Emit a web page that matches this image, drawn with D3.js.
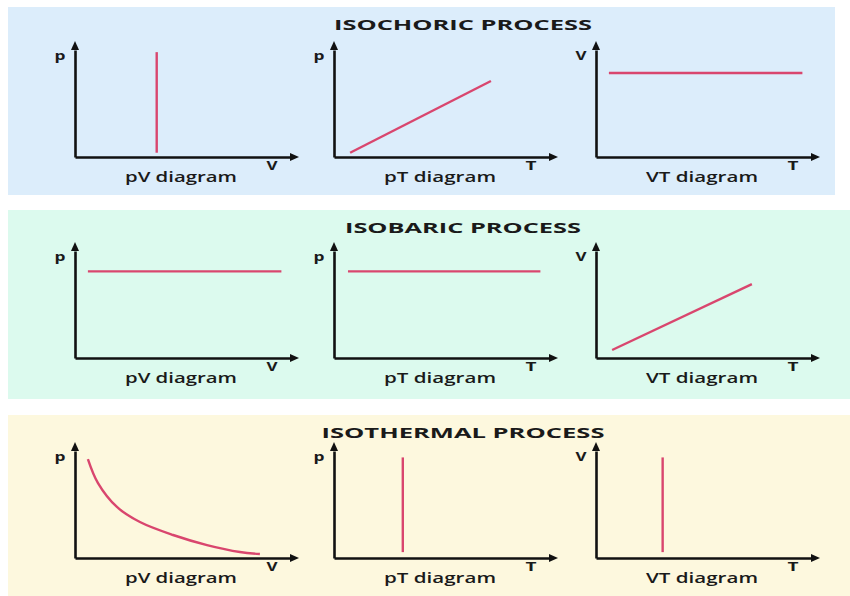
<!DOCTYPE html>
<html>
<head>
<meta charset="utf-8">
<script src="https://cdn.jsdelivr.net/npm/d3@7"></script>
<style>
  body { margin: 0; background: #fff; }
  svg { display: block; }
  text { font-family: "Open Sans", "DejaVu Sans", sans-serif; fill: #1a1a1a; }
</style>
</head>
<body>
<div id="chart"></div>
<script>
// processes (one row each)
const processes = ['ISOCHORIC PROCESS', 'ISOBARIC PROCESS', 'ISOTHERMAL PROCESS'];
const rowColors = ['#dcedfb', '#dcfaee', '#fdf8de'];
const diagramNames = ['pV diagram', 'pT diagram', 'VT diagram'];
const yLabels = ['p', 'p', 'V'];
const xLabels = ['V', 'T', 'T'];

// curve points per row, per diagram, in 0-10 units
const isochoric = [
  [[3.8, 0.4], [3.8, 9.8]],
  [[0.75, 0.4], [7.3, 7.1]],
  [[0.6, 7.85], [9.6, 7.85]]
];
const isobaric = [
  [[0.6, 8.1], [9.6, 8.1]],
  [[0.65, 8.1], [9.6, 8.1]],
  [[0.75, 0.75], [7.25, 6.9]]
];
const isothermal = [
  [[0.6, 9.25], [1.07, 7.0], [1.95, 4.77], [3.02, 3.36], [4.56, 2.15], [6.14, 1.21], [7.67, 0.56], [8.6, 0.37]],
  [[3.2, 9.4], [3.2, 0.55]],
  [[3.1, 9.4], [3.1, 0.55]]
];
const rows = [isochoric, isobaric, isothermal];
const titleWidths = [258, 236, 283];

const width = 850, height = 596;
const pink = '#d9466e';

const svg = d3.select('#chart')
  .append('svg')
  .attr('width', width)
  .attr('height', height);

const panelTops = [7, 210, 415];
const panelHeights = [188, 189, 181];
const colX = [75, 334, 596];
const axisBottoms = [157, 358, 558];
const plotW = 215, plotH = 107;

for (let r = 0; r < rows.length; r++) {
  svg.append('rect')
    .attr('x', 8)
    .attr('y', panelTops[r])
    .attr('width', r === 0 ? 827 : 842)
    .attr('height', panelHeights[r])
    .attr('fill', rowColors[r]);

  svg.append('text')
    .attr('x', 463)
    .attr('y', panelTops[r] + 23)
    .attr('text-anchor', 'middle')
    .attr('font-weight', 'bold')
    .attr('font-size', '14.5px')
    .attr('textLength', titleWidths[r])
    .attr('lengthAdjust', 'spacingAndGlyphs')
    .text(processes[r]);

  for (let c = 0; c < 3; c++) {
    const x0 = colX[c], yb = axisBottoms[r];
    const x = d3.scaleLinear().domain([0, 10]).range([x0, x0 + plotW]);
    const y = d3.scaleLinear().domain([0, 10]).range([yb, yb - plotH]);
    const g = svg.append('g');

    // axes without ticks
    g.append('g')
      .attr('transform', `translate(0,${yb})`)
      .call(d3.axisBottom(x).ticks(0).tickSizeOuter(0).tickSize(0).tickFormat(''))
      .call(a => a.select('.domain').attr('stroke', '#111').attr('stroke-width', 2.6));
    g.append('g')
      .attr('transform', `translate(${x0},0)`)
      .call(d3.axisLeft(y).ticks(0).tickSizeOuter(0).tickSize(0).tickFormat(''))
      .call(a => a.select('.domain').attr('stroke', '#111').attr('stroke-width', 2.6));
    // extend lines and arrow heads
    const xEnd = x.range()[1], yEnd = y.range()[1];
    g.append('line').attr('x1', xEnd).attr('x2', xEnd + 3).attr('y1', yb).attr('y2', yb)
      .attr('stroke', '#111').attr('stroke-width', 2.6);
    g.append('line').attr('x1', x0).attr('x2', x0).attr('y1', yEnd).attr('y2', yEnd - 2)
      .attr('stroke', '#111').attr('stroke-width', 2.6);
    g.append('path')
      .attr('d', `M${xEnd + 9},${yb} L${xEnd},${yb - 4} L${xEnd},${yb + 4} Z`)
      .attr('fill', '#111');
    g.append('path')
      .attr('d', `M${x0},${yEnd - 9} L${x0 - 4},${yEnd} L${x0 + 4},${yEnd} Z`)
      .attr('fill', '#111');

    // curve
    const pts = rows[r][c];
    const line = d3.line()
      .x(d => x(d[0]))
      .y(d => y(d[1]))
      .curve(pts.length > 2 ? d3.curveCatmullRom : d3.curveLinear);
    g.append('path')
      .attr('d', line(pts))
      .attr('fill', 'none')
      .attr('stroke', pink)
      .attr('stroke-width', 2.4);

    // labels
    g.append('text')
      .attr('x', x0 - 15)
      .attr('y', yEnd + 10)
      .attr('text-anchor', 'middle')
      .attr('font-weight', 'bold')
      .attr('font-size', '13px')
      .attr('textLength', 11)
      .attr('lengthAdjust', 'spacingAndGlyphs')
      .text(yLabels[c]);
    g.append('text')
      .attr('x', xEnd - 18)
      .attr('y', yb + 13)
      .attr('text-anchor', 'middle')
      .attr('font-weight', 'bold')
      .attr('font-size', '13px')
      .attr('textLength', 11)
      .attr('lengthAdjust', 'spacingAndGlyphs')
      .text(xLabels[c]);
    g.append('text')
      .attr('x', x0 + 106)
      .attr('y', yb + 25)
      .attr('text-anchor', 'middle')
      .attr('font-weight', 600)
      .attr('font-size', '14.5px')
      .attr('textLength', 112)
      .attr('lengthAdjust', 'spacingAndGlyphs')
      .text(diagramNames[c]);
  }
}
</script>
</body>
</html>
